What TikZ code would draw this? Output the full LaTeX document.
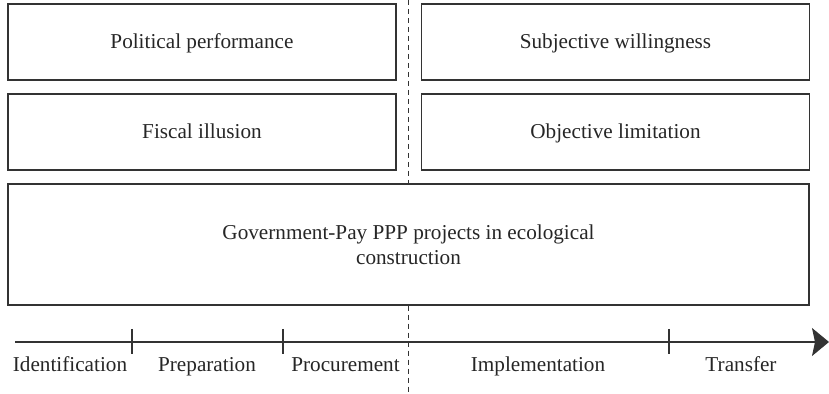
\documentclass[tikz,border=0pt]{standalone}
\usepackage{fontspec}
\setmainfont{Liberation Serif}
\usetikzlibrary{arrows.meta}

\begin{document}
\begin{tikzpicture}[
		x=0.5pt, y=-0.5pt,
		every node/.style={font=\fontsize{10.6}{12.5}\selectfont, text=black!85},
		factor/.style={rectangle, draw=black!80, line width=0.6pt, minimum width=194pt, minimum height=38pt, inner sep=0pt, text height=7pt, text depth=0pt},
		phase/.style={inner sep=0pt, anchor=base}
	]
  \useasboundingbox (0,0) rectangle (829,394);
  \node (pol) [factor] at (202, 42) {Political performance};
  \node (fis) [factor] at (202, 132) {Fiscal illusion};
  \node (sub) [factor] at (615.5, 42) {Subjective willingness};
  \node (obj) [factor] at (615.5, 132) {Objective limitation};
  \node (ppp) [factor, minimum width=400.5pt, minimum height=60.5pt, align=center, text height=, text depth=] at (408.5, 244.5)
    {Government-Pay PPP projects in ecological\\construction};
  \coordinate (ax_s) at (15, 342);
  \coordinate (ax_e) at (829, 342);
  \draw [line width=0.6pt, black!80, -{Stealth[length=8.5pt, width=14pt, inset=1.5pt]}] (ax_s) -- (ax_e);
  \foreach \t in {132, 283, 669}
    \draw [line width=0.6pt, black!80] (\t, 329) -- (\t, 354);
  \node (idf) [phase] at (70, 372) {Identification};
  \node (prp) [phase] at (207, 372) {Preparation};
  \node (prc) [phase] at (345.5, 372) {Procurement};
  \node (imp) [phase] at (538, 372) {Implementation};
  \node (trf) [phase] at (741, 372) {Transfer};
  \coordinate (cut_t) at (408, 0);
  \coordinate (cut_b) at (408, 394);
  \draw [line width=0.5pt, black!80, dash pattern=on 2.5pt off 2pt] (cut_t) -- (cut_t |- ppp.north);
  \draw [line width=0.5pt, black!80, dash pattern=on 2.5pt off 2pt] (cut_t |- ppp.south) -- (cut_b);
\end{tikzpicture}
\end{document}
